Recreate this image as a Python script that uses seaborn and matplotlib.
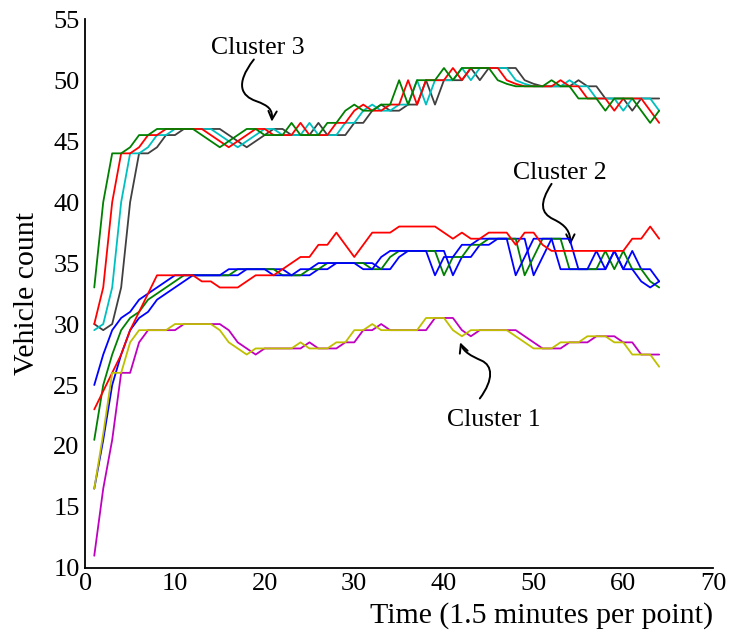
import numpy as np
import pandas as pd
import matplotlib
matplotlib.use("Agg")
import matplotlib.pyplot as plt
from matplotlib.patches import FancyArrowPatch
from matplotlib.path import Path
import seaborn as sns

t = list(range(1, 65))

# Cluster 3 (four lagged predictions)
c3_green = [33, 40, 44, 44, 44.5, 45.5, 45.5, 46, 46, 46, 46, 46, 45.5, 45, 44.5, 45,
            45.5, 46, 46, 45.5, 45.5, 45.5, 46.5, 45.5, 45.5, 45.5, 46.5, 46.5, 47.5, 48, 47.5, 47.5,
            48, 48, 50, 48, 50, 50, 50, 51, 50, 51, 51, 51, 51, 50, 49.7, 49.5,
            49.5, 49.5, 49.5, 50, 49.5, 49.5, 48.5, 48.5, 48.5, 47.5, 48.5, 48.5, 48.5, 47.5, 46.5, 47.5]
c3_red = [30, 33, 40, 44, 44, 44.5, 45.5, 45.5, 46, 46, 46, 46, 46, 45.5, 45, 44.5,
          45, 45.5, 46, 46, 45.5, 45.5, 45.5, 46.5, 45.5, 45.5, 45.5, 46.5, 46.5, 47.5, 48, 47.5,
          47.5, 48, 48, 50, 48, 50, 50, 50, 51, 50, 51, 51, 51, 51, 50, 49.7,
          49.5, 49.5, 49.5, 49.5, 50, 49.5, 49.5, 48.5, 48.5, 48.5, 47.5, 48.5, 48.5, 48.5, 47.5, 46.5]
c3_cyan = [29.5, 30, 33, 40, 44, 44, 44.5, 45.5, 45.5, 46, 46, 46, 46, 46, 45.5, 45,
           44.5, 45, 45.5, 46, 46, 45.5, 45.5, 45.5, 46.5, 45.5, 45.5, 45.5, 46.5, 46.5, 47.5, 48,
           47.5, 47.5, 48, 48, 50, 48, 50, 50, 50, 51, 50, 51, 51, 51, 51, 50,
           49.7, 49.5, 49.5, 49.5, 49.5, 50, 49.5, 49.5, 48.5, 48.5, 48.5, 47.5, 48.5, 48.5, 48.5, 47.5]
c3_gray = [30, 29.5, 30, 33, 40, 44, 44, 44.5, 45.5, 45.5, 46, 46, 46, 46, 46, 45.5,
           45, 44.5, 45, 45.5, 46, 46, 45.5, 45.5, 45.5, 46.5, 45.5, 45.5, 45.5, 46.5, 46.5, 47.5,
           48, 47.5, 47.5, 48, 48, 50, 48, 50, 50, 50, 51, 50, 51, 51, 51, 51,
           50, 49.7, 49.5, 49.5, 49.5, 49.5, 50, 49.5, 49.5, 48.5, 48.5, 48.5, 47.5, 48.5, 48.5, 48.5]

# Cluster 2
c2_blue1 = [25, 27.5, 29.5, 30.5, 31, 32, 32.5, 33, 33.5, 34,
            34, 34, 34, 34, 34, 34.5, 34.5, 34.5, 34.5, 34.5,
            34, 34, 34, 34.5, 34.5, 35, 35, 35, 35, 35,
            34.5, 34.5, 35.5, 36, 36, 36, 36, 36, 34, 35.5,
            35.5, 36.5, 36.5, 37, 37, 37, 37, 34, 35.5, 37,
            37, 37, 34.5, 34.5, 34.5, 34.5, 36, 34.5, 36, 34.5,
            34.5, 33.5, 33, 33.5]
c2_green = [20.5, 25, 27.5, 29.5, 30.5, 31, 32, 32.5, 33, 33.5,
            34, 34, 34, 34, 34, 34, 34.5, 34.5, 34.5, 34.5,
            34.5, 34, 34, 34, 34.5, 34.5, 35, 35, 35, 35,
            35, 34.5, 34.5, 35.5, 36, 36, 36, 36, 36, 34,
            35.5, 35.5, 36.5, 36.5, 37, 37, 37, 37, 34, 35.5,
            37, 37, 37, 34.5, 34.5, 34.5, 34.5, 36, 34.5, 36,
            34.5, 34.5, 33.5, 33]
c2_blue2 = [16.5, 20.5, 25, 27.5, 29.5, 30.5, 31, 32, 32.5, 33,
            33.5, 34, 34, 34, 34, 34, 34, 34.5, 34.5, 34.5,
            34.5, 34.5, 34, 34, 34, 34.5, 34.5, 35, 35, 35,
            35, 35, 34.5, 34.5, 35.5, 36, 36, 36, 36, 36,
            34, 35.5, 35.5, 36.5, 36.5, 37, 37, 37, 37, 34,
            35.5, 37, 37, 37, 34.5, 34.5, 34.5, 34.5, 36, 34.5,
            36, 34.5, 34.5, 33.5]
c2_red = [23, 24.5, 26, 27.5, 29.5, 31, 32.5, 34, 34, 34, 34, 34, 33.5, 33.5, 33, 33,
          33, 33.5, 34, 34, 34, 34.5, 35, 35.5, 35.5, 36.5, 36.5, 37.5, 36.5, 35.5, 36.5, 37.5,
          37.5, 37.5, 38, 38, 38, 38, 38, 37.5, 37, 37.5, 37, 37, 37.5, 37.5, 37.5, 36.5,
          37.5, 37.5, 36.5, 36, 36, 36, 36, 36, 36, 36, 36, 36, 37, 37, 38, 37]

# Cluster 1
c1_yellow = [16.5, 21, 26, 26, 28.5, 29.5, 29.5, 29.5, 29.5, 30, 30, 30, 30, 30, 29.5, 28.5,
             28, 27.5, 28, 28, 28, 28, 28, 28.5, 28, 28, 28, 28.5, 28.5, 29.5, 29.5, 30,
             29.5, 29.5, 29.5, 29.5, 29.5, 30.5, 30.5, 30.5, 29.5, 29, 29.5, 29.5, 29.5, 29.5, 29.5, 29,
             28.5, 28, 28, 28, 28.5, 28.5, 28.5, 29, 29, 29, 28.5, 28.5, 27.5, 27.5, 27.5, 26.5]
c1_magenta = [11, 16.5, 20.5, 26, 26, 28.5, 29.5, 29.5, 29.5, 29.5, 30, 30, 30, 30, 30, 29.5,
              28.5, 28, 27.5, 28, 28, 28, 28, 28, 28.5, 28, 28, 28, 28.5, 28.5, 29.5, 29.5,
              30, 29.5, 29.5, 29.5, 29.5, 29.5, 30.5, 30.5, 30.5, 29.5, 29, 29.5, 29.5, 29.5, 29.5, 29.5,
              29, 28.5, 28, 28, 28, 28.5, 28.5, 28.5, 29, 29, 29, 28.5, 28.5, 27.5, 27.5, 27.5]

x_ticks = [0, 10, 20, 30, 40, 50, 60, 70]
y_ticks = [10, 15, 20, 25, 30, 35, 40, 45, 50, 55]

sns.set_theme(style="white")
plt.rcParams['font.family'] = ['Liberation Serif', 'DejaVu Serif']
plt.rcParams['text.color'] = 'black'
plt.rcParams['axes.labelcolor'] = 'black'

fig = plt.figure(figsize=(7.29, 6.41), dpi=100)
ax = fig.add_axes([0.117, 0.114, 0.861, 0.856])

series = [
    (c3_gray, '#404040'), (c3_cyan, '#00BFBF'), (c3_red, '#FF0000'), (c3_green, '#008000'),
    (c2_blue2, '#0000FF'), (c2_green, '#008000'), (c2_blue1, '#0000FF'), (c2_red, '#FF0000'),
    (c1_magenta, '#BF00BF'), (c1_yellow, '#BFBF00'),
]
for vals, col in series:
    df = pd.DataFrame({'t': t, 'v': vals})
    sns.lineplot(data=df, x='t', y='v', color=col, linewidth=1.3, ax=ax, legend=False)

ax.set_xlim(0, 70)
ax.set_ylim(10, 55)
ax.set_xticks(x_ticks)
ax.set_yticks(y_ticks)
ax.tick_params(direction='in', length=5, width=1.2, labelsize=19, colors='black', pad=4)
for s in ['top', 'right']:
    ax.spines[s].set_visible(False)
for s in ['left', 'bottom']:
    ax.spines[s].set_color('black')
    ax.spines[s].set_linewidth(1.3)
ax.set_xlabel('Time (1.5 minutes per point)', fontsize=21.5, ha='right', color='black')
ax.xaxis.set_label_coords(1.0, -0.062)
ax.set_ylabel('Vehicle count', fontsize=21.5, color='black')
ax.yaxis.set_label_coords(-0.072, 0.5)

def squiggle(pts, head_scale=15):
    codes = [Path.MOVETO] + [Path.CURVE4] * (len(pts) - 1)
    p = Path(pts, codes)
    arr = FancyArrowPatch(path=p, arrowstyle='->', mutation_scale=head_scale,
                          color='black', linewidth=1.4)
    ax.add_patch(arr)

ax.text(19.25, 52.6, 'Cluster 3', fontsize=18.5, ha='center', va='center', color='black')
squiggle([(18.8, 51.7), (16.6, 49.6), (17.5, 48.7), (19.0, 48.3), (20.5, 47.9), (20.9, 47.6), (20.8, 46.6)])

ax.text(52.9, 42.4, 'Cluster 2', fontsize=18.5, ha='center', va='center', color='black')
squiggle([(52.0, 41.5), (50.6, 39.9), (50.8, 39.1), (52.2, 38.6), (53.6, 38.1), (54.1, 37.6), (54.1, 36.5)])

ax.text(45.6, 22.1, 'Cluster 1', fontsize=18.5, ha='center', va='center', color='black')
squiggle([(44.0, 23.9), (45.6, 25.5), (45.4, 26.6), (44.2, 27.0), (43.0, 27.4), (42.2, 27.7), (41.8, 28.5)])

fig.savefig('out.png', dpi=100)
